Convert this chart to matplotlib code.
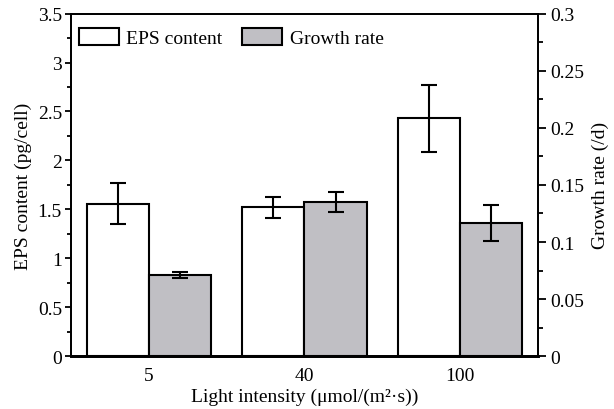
import numpy as np
import matplotlib
matplotlib.use('Agg')
import matplotlib.pyplot as plt
from matplotlib.ticker import MultipleLocator, FormatStrFormatter

plt.rcParams['font.family'] = ['Liberation Serif', 'DejaVu Serif']

# data
light = ['5', '40', '100']
eps = [1.56, 1.52, 2.43]
eps_err = [0.205, 0.107, 0.34]
growth = [0.0714, 0.135, 0.1166]
growth_err = [0.0028, 0.0087, 0.016]

fig = plt.figure(figsize=(6.14, 4.10), dpi=100)
ax = fig.add_axes([0.1156, 0.1285, 0.7606, 0.836])
ax2 = ax.twinx()

x = np.arange(len(light))
w = 0.4
ebar = dict(ecolor='black', elinewidth=1.5, capsize=5.5, capthick=1.5)

b1 = ax.bar(x - w/2, eps, w, yerr=eps_err, color='white', edgecolor='black',
            linewidth=1.5, error_kw=ebar, label='EPS content', zorder=2)
b2 = ax2.bar(x + w/2, growth, w, yerr=growth_err, color='#c0bfc4', edgecolor='black',
             linewidth=1.5, error_kw=ebar, label='Growth rate', zorder=2)

ax.set_xlim(-0.5, 2.5)
ax.set_ylim(0, 3.5)
ax2.set_ylim(0, 0.3)
ax.set_xticks(x)
ax.set_xticklabels(light)
ax.yaxis.set_major_locator(MultipleLocator(0.5))
ax.yaxis.set_minor_locator(MultipleLocator(0.25))
ax2.yaxis.set_major_locator(MultipleLocator(0.05))
ax2.yaxis.set_minor_locator(MultipleLocator(0.025))
ax.yaxis.set_major_formatter(FormatStrFormatter('%g'))
ax2.yaxis.set_major_formatter(FormatStrFormatter('%g'))

fs = 14
ax.tick_params(axis='x', length=0, labelsize=fs, pad=8)
ax.tick_params(axis='y', which='major', length=4.5, width=1.3, labelsize=fs, pad=2)
ax.tick_params(axis='y', which='minor', length=3, width=1.3)
ax2.tick_params(axis='y', which='major', length=5.5, width=1.3, labelsize=fs, pad=3)
ax2.tick_params(axis='y', which='minor', length=3.5, width=1.3)

for a in (ax, ax2):
    for s in a.spines.values():
        s.set_linewidth(1.3)
    a.spines['bottom'].set_linewidth(2)

ax.set_xlabel('Light intensity (μmol/(m²·s))', fontsize=fs, labelpad=2.5)
ax.set_ylabel('EPS content (pg/cell)', fontsize=fs, labelpad=4)
ax2.set_ylabel('Growth rate (/d)', fontsize=fs, labelpad=6)

ax2.legend([b1, b2], ['EPS content', 'Growth rate'], loc='upper left', ncol=2,
           bbox_to_anchor=(0, 0.982), frameon=False, fontsize=fs,
           handlelength=2.05, handleheight=1.0, columnspacing=1.0,
           borderaxespad=0.0, borderpad=0.4, handletextpad=0.4)

fig.savefig('out.png', dpi=100)
